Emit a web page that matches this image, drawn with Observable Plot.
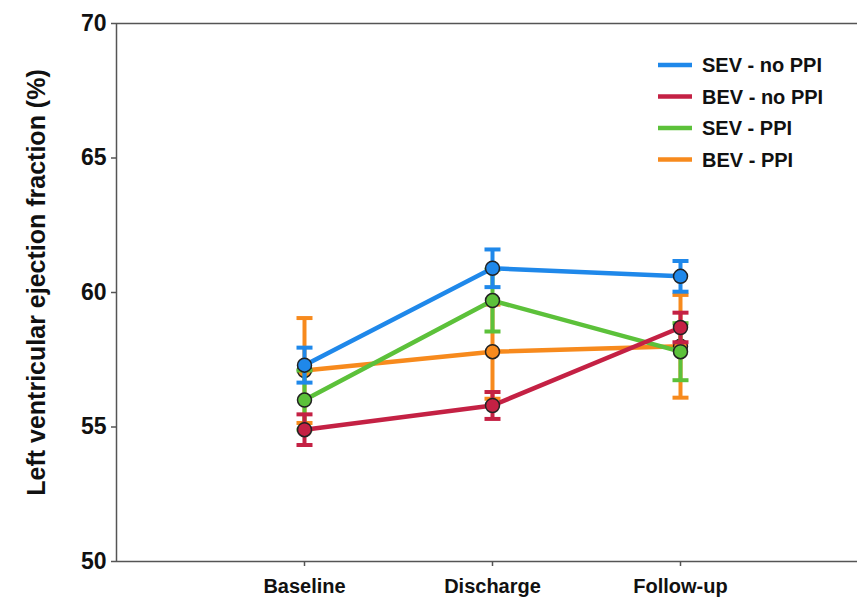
<!DOCTYPE html>
<html>
<head>
<meta charset="utf-8">
<script src="https://cdn.jsdelivr.net/npm/d3@7"></script>
<script src="https://cdn.jsdelivr.net/npm/@observablehq/plot@0.6"></script>
<style>
  html, body { margin: 0; padding: 0; background: #fff; }
  #chart { position: relative; width: 857px; height: 603px; }
  svg { font-family: "Liberation Sans", Arial, sans-serif; }
</style>
</head>
<body>
<div id="chart"></div>
<script>
const timepoints = ["Baseline", "Discharge", "Follow-up"];
const seriesNames = ["SEV - no PPI", "BEV - no PPI", "SEV - PPI", "BEV - PPI"];
const seriesColors = ["#1f88ea", "#c42144", "#5cc13a", "#f78a1d"];
const yTicks = [50, 55, 60, 65, 70];
const yLabel = "Left ventricular ejection fraction (%)";

const sevNoPpiMean = [57.3, 60.9, 60.6];
const sevNoPpiErr  = [0.65, 0.7, 0.57];
const bevNoPpiMean = [54.9, 55.8, 58.7];
const bevNoPpiErr  = [0.57, 0.5, 0.55];
const sevPpiMean   = [56.0, 59.7, 57.8];
const sevPpiErr    = [1.1, 1.15, 1.06];
const bevPpiMean   = [57.1, 57.8, 58.0];
const bevPpiErr    = [1.95, 1.75, 1.91];

const means = [sevNoPpiMean, bevNoPpiMean, sevPpiMean, bevPpiMean];
const errs = [sevNoPpiErr, bevNoPpiErr, sevPpiErr, bevPpiErr];

const rows = [];
seriesNames.forEach((s, si) => {
  timepoints.forEach((t, ti) => {
    rows.push({series: s, idx: ti + 1, time: t, mean: means[si][ti],
               lo: means[si][ti] - errs[si][ti], hi: means[si][ti] + errs[si][ti]});
  });
});

const capSymbol = {
  draw(ctx, size) {
    const w = Math.sqrt(size / Math.PI);
    ctx.moveTo(-w, 0);
    ctx.lineTo(w, 0);
  }
};

const W = 857, H = 603;
const mL = 116, mT = 23, mB = 42, mR = 0;
const step = 188;
const xMax = (W - mL - mR) / step;

// draw order: bottom -> top
const drawOrder = ["BEV - PPI", "SEV - PPI", "BEV - no PPI", "SEV - no PPI"];
const axisColor = "#555";

const seriesMarks = drawOrder.flatMap(s => {
  const d = rows.filter(r => r.series === s);
  return [
    Plot.line(d, {x: "idx", y: "mean", stroke: "series", strokeWidth: 4.5}),
    Plot.ruleX(d, {x: "idx", y1: "lo", y2: "hi", stroke: "series", strokeWidth: 4}),
    Plot.dot(d, {x: "idx", y: "lo", symbol: capSymbol, r: 8, stroke: "series", strokeWidth: 4, fill: "none"}),
    Plot.dot(d, {x: "idx", y: "hi", symbol: capSymbol, r: 8, stroke: "series", strokeWidth: 4, fill: "none"}),
    Plot.dot(d, {x: "idx", y: "mean", r: 7, fill: "series", stroke: "#222", strokeWidth: 1.5})
  ];
});

const plot = Plot.plot({
  width: W,
  height: H,
  marginLeft: mL,
  marginTop: mT,
  marginBottom: mB,
  marginRight: mR,
  style: {fontFamily: "'Liberation Sans', Arial, sans-serif", background: "#fff"},
  x: {type: "linear", domain: [0, xMax]},
  y: {domain: [50, 70]},
  color: {domain: seriesNames, range: seriesColors},
  marks: [
    Plot.axisY({ticks: yTicks, tickSize: 5, tickPadding: 5, fontSize: 23, fontWeight: "bold",
                stroke: axisColor, strokeWidth: 1.5, color: "#111", label: null}),
    Plot.axisX({ticks: [1, 2, 3], tickFormat: i => timepoints[i - 1], tickSize: 5, tickPadding: 12,
                fontSize: 20, fontWeight: "bold", stroke: axisColor, strokeWidth: 1.5, color: "#111", label: null}),
    Plot.ruleX([0], {stroke: axisColor, strokeWidth: 1.5}),
    Plot.ruleY([50, 70], {stroke: axisColor, strokeWidth: 1.5}),
    Plot.text([yLabel], {frameAnchor: "left", text: d => d, rotate: -90, dx: -80, dy: -10,
                         textAnchor: "middle", lineAnchor: "middle",
                         fontSize: 25, fontWeight: "bold", fill: "#111"}),
    ...seriesMarks
  ]
});

document.getElementById("chart").appendChild(plot);

// legend inside the plot area (top-right)
const svg = d3.select(plot);
const leg = svg.append("g").attr("transform", "translate(658,65)").attr("text-anchor", "start");
seriesNames.forEach((s, i) => {
  const g = leg.append("g").attr("transform", `translate(0,${i * 31.5})`);
  g.append("line").attr("x1", 0).attr("x2", 34).attr("y1", 0).attr("y2", 0)
    .attr("stroke", seriesColors[i]).attr("stroke-width", 4.5);
  g.append("text").attr("x", 44).attr("y", 0).attr("dy", "0.36em")
    .attr("text-anchor", "start")
    .attr("font-size", 20).attr("font-weight", "bold").attr("fill", "#111")
    .style("font-family", "'Liberation Sans', Arial, sans-serif").text(s);
});
</script>
</body>
</html>
